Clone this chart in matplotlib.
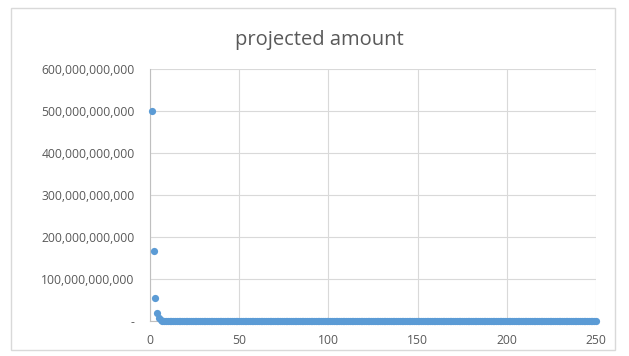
import matplotlib.pyplot as plt
from matplotlib.ticker import FuncFormatter, MultipleLocator
from matplotlib.patches import Rectangle

# data: periods 1..250, amount shrinks fast to ~0
periods = list(range(1, 251))
head_amounts = [500e9, 166.7e9, 55.6e9, 18.5e9, 6.2e9, 2.1e9, 0.69e9, 0.23e9, 0.08e9, 0.03e9]
tail_amounts = [0.0] * (len(periods) - len(head_amounts))
amounts = head_amounts + tail_amounts

title = "projected amount"
text_col = "#595959"
grid_col = "#D9D9D9"
dot_col = "#5B9BD5"

plt.rcParams["font.family"] = ["Open Sans", "DejaVu Sans"]

fig = plt.figure(figsize=(6.29, 3.56), dpi=100)
# outer chart frame
fig.patches.append(Rectangle((11 / 629, 6 / 356), 604 / 629, 342 / 356, transform=fig.transFigure,
                             fill=False, edgecolor="#D9D9D9", linewidth=1))

ax = fig.add_axes([150 / 629, 1 - 321 / 356, 446 / 629, 252 / 356])
ax.plot(periods, amounts, "o", color=dot_col, markersize=5.2, markeredgewidth=0, clip_on=False, zorder=3)

ax.set_xlim(0, 250)
ax.set_ylim(0, 600e9)
ax.xaxis.set_major_locator(MultipleLocator(50))
ax.yaxis.set_major_locator(MultipleLocator(100e9))
ax.yaxis.set_major_formatter(FuncFormatter(lambda v, p: "-" if v == 0 else f"{v:,.0f}"))

ax.grid(True, color=grid_col, linewidth=0.8)
ax.set_axisbelow(True)
for s in ["top", "right"]:
    ax.spines[s].set_visible(False)
for s in ["left", "bottom"]:
    ax.spines[s].set_color("#BFBFBF")
    ax.spines[s].set_linewidth(0.8)
ax.tick_params(length=0, labelsize=8.7, labelcolor=text_col)
ax.tick_params(axis="y", pad=11)
ax.tick_params(axis="x", pad=9)

fig.text(0.508, 1 - 40 / 356, title, ha="center", va="center", fontsize=14.5, color=text_col)

fig.savefig("out.png", dpi=100)
